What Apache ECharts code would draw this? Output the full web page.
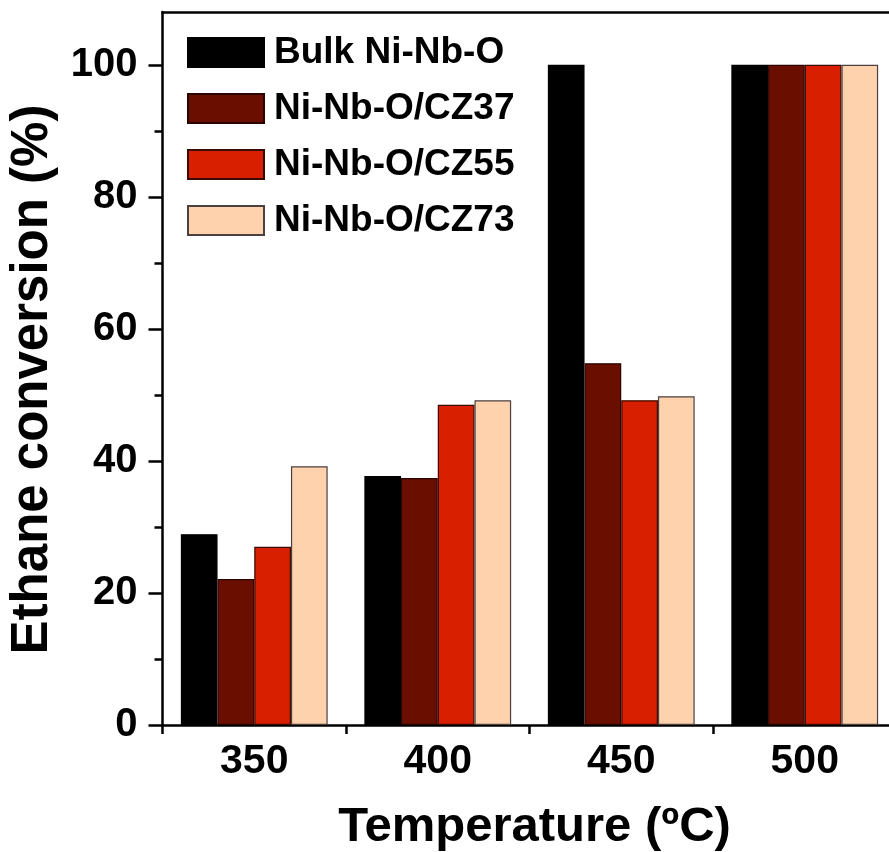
<!DOCTYPE html>
<html>
<head>
<meta charset="utf-8">
<script src="https://cdn.jsdelivr.net/npm/echarts@6/dist/echarts.min.js"></script>
<style>
  html, body { margin: 0; padding: 0; background: #fff; }
  #chart { width: 889px; height: 852px; }
</style>
</head>
<body>
<div id="chart"></div>
<script>
// Reaction temperatures (ºC)
const temperatures = ['350', '400', '450', '500'];

// Ethane conversion (%) for each catalyst
const bulkNiNbO = [28.9, 37.7, 100, 100];
const cz37 = [22.1, 37.4, 54.8, 100];
const cz55 = [27.0, 48.5, 49.2, 100];
const cz73 = [39.2, 49.2, 49.8, 100];

const seriesNames = ['Bulk Ni-Nb-O', 'Ni-Nb-O/CZ37', 'Ni-Nb-O/CZ55', 'Ni-Nb-O/CZ73'];
const seriesValues = [bulkNiNbO, cz37, cz55, cz73];
const seriesColors = ['#000000', '#6a0f00', '#d81f00', '#ffd2ae'];
const borderColors = ['#000000', '#2a0500', '#3a0a00', '#4a4040'];

// Y axis marks
const majorTicks = [0, 20, 40, 60, 80, 100];
const minorTicks = [10, 30, 50, 70, 90];

const FONT = '"Liberation Sans", Arial, sans-serif';
const AXIS_W = 2.5;

const chart = echarts.init(document.getElementById('chart'), null, { renderer: 'canvas' });

const option = {
  animation: false,
  backgroundColor: '#ffffff',
  // plot frame runs past the right edge of the canvas
  grid: { left: 162.5, top: 12, height: 713, width: 734, containLabel: false, outerBoundsMode: 'none' },
  legend: {
    orient: 'vertical',
    left: 187,
    top: 34,
    padding: 0,
    itemWidth: 76,
    itemHeight: 29,
    itemGap: 19,
    icon: 'rect',
    selectedMode: false,
    textStyle: {
      fontFamily: FONT,
      fontWeight: 'bold',
      fontSize: 37,
      color: '#000',
      lineHeight: 29,
      padding: [0, 0, 0, 5]
    },
    data: seriesNames
  },
  xAxis: [
    {
      type: 'category',
      data: temperatures,
      position: 'bottom',
      boundaryGap: true,
      name: 'Temperature (ºC)',
      nameLocation: 'middle',
      nameGap: 78,
      nameTextStyle: { fontFamily: FONT, fontWeight: 'bold', fontSize: 49, color: '#000', padding: [0, 0, 0, 10] },
      axisLine: { show: true, onZero: false, lineStyle: { color: '#000', width: AXIS_W } },
      axisTick: { show: true, inside: false, length: 9, alignWithLabel: false, lineStyle: { color: '#000', width: AXIS_W } },
      axisLabel: { fontFamily: FONT, fontWeight: 'bold', fontSize: 41, color: '#000', margin: 16 },
      splitLine: { show: false }
    },
    {
      // upper frame edge
      type: 'category',
      data: temperatures,
      position: 'top',
      axisLine: { show: true, onZero: false, lineStyle: { color: '#000', width: AXIS_W } },
      axisTick: { show: false },
      axisLabel: { show: false },
      splitLine: { show: false }
    }
  ],
  yAxis: [
    {
      type: 'value',
      position: 'left',
      min: 0,
      max: 108,
      name: 'Ethane conversion (%)',
      nameLocation: 'middle',
      nameRotate: 90,
      nameGap: 104,
      nameTextStyle: { fontFamily: FONT, fontWeight: 'bold', fontSize: 51, color: '#000', padding: [0, 22, 0, 0] },
      axisLine: { show: true, onZero: false, lineStyle: { color: '#000', width: AXIS_W } },
      axisTick: { show: true, inside: false, length: 14, customValues: majorTicks, lineStyle: { color: '#000', width: AXIS_W } },
      axisLabel: { fontFamily: FONT, fontWeight: 'bold', fontSize: 40, color: '#000', margin: 25, customValues: majorTicks },
      splitLine: { show: false }
    },
    {
      // short intermediate ticks
      type: 'value',
      position: 'left',
      min: 0,
      max: 108,
      axisLine: { show: false },
      axisTick: { show: true, inside: false, length: 8, customValues: minorTicks, lineStyle: { color: '#000', width: AXIS_W } },
      axisLabel: { show: false },
      splitLine: { show: false }
    }
  ],
  series: seriesNames.map((name, i) => ({
    name: name,
    type: 'bar',
    xAxisIndex: 0,
    yAxisIndex: 0,
    data: seriesValues[i],
    barGap: '0%',
    barCategoryGap: '20%',
    itemStyle: { color: seriesColors[i], borderColor: borderColors[i], borderWidth: 1.2 }
  }))
};

chart.setOption(option);
</script>
</body>
</html>
